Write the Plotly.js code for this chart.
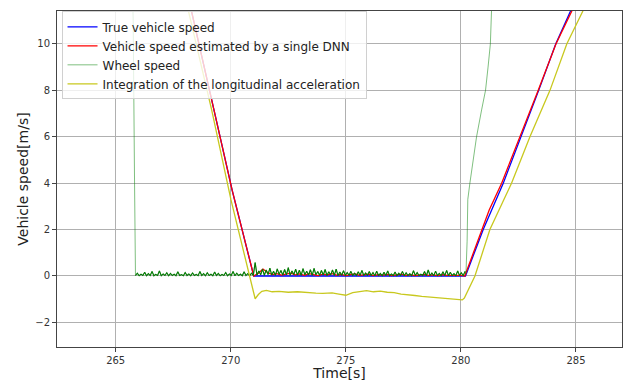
<!DOCTYPE html>
<html>
<head>
<meta charset="utf-8">
<script src="https://cdn.plot.ly/plotly-3.0.1.min.js"></script>
<style>html,body{margin:0;padding:0;background:#fff;}#chart{width:630px;height:381px;}</style>
</head>
<body>
<div id="chart"></div>
<script>
// ---- Data ----
const seriesNames = [
  "True vehicle speed",
  "Vehicle speed estimated by a single DNN",
  "Wheel speed",
  "Integration of the longitudinal acceleration"
];

// True vehicle speed
const trueT = [267.7, 268.3, 269.27, 270.06, 271.0, 280.2, 280.97, 281.84, 282.62, 283.38, 284.12, 284.8, 285.3];
const trueV = [14.0, 11.42, 7.16, 3.7, 0.0, 0.0, 2.0, 4.0, 6.0, 8.0, 10.0, 11.42, 12.6];

// DNN estimate: descent, low-speed wiggle (every 0.2 s from 271.0 s), rise
const dnnDescT = [267.7, 268.3, 269.27, 270.06, 271.0];
const dnnDescV = [14.0, 11.42, 7.16, 3.7, 0.0];
const dnnStopT0 = 271.0, dnnStopDt = 0.2;
const dnnStopV = [0, 0.12, 0.3, 0.15, 0.06, 0.1, 0.04, 0.08, 0.12, 0.05,
                  0.09, 0.03, 0.1, 0.06, 0.02, 0.08, 0.05, 0.1, 0.04, 0.07,
                  0.02, 0.06, 0.09, 0.03, 0.05, 0.08, 0.02, 0.06, 0.04, 0.07,
                  0.02, 0.05, 0.08, 0.03, 0.06, 0.02, 0.04, 0.07, 0.03, 0.05,
                  0.02, 0.06, 0.03, 0.04, 0.02, 0.03];
const dnnRiseT = [280.17, 280.93, 281.23, 281.77, 282.57, 283.04, 283.36, 284.13, 284.82, 285.3];
const dnnRiseV = [0.0, 2.0, 2.84, 4.0, 6.0, 7.16, 8.0, 10.0, 11.42, 12.6];

// Wheel speed: drop, noisy standstill (every 0.08 s from 265.86 s), rise
const wheelDropT = [265.7, 265.76, 265.82, 265.85];
const wheelDropV = [14.0, 11.0, 4.0, 0.02];
const wheelStopT0 = 265.86, wheelStopDt = 0.08;
const wheelStopV = [
  0.02, 0.12, 0.01, 0.08, 0.02, 0.16, 0.01, 0.10, 0.02, 0.20,
  0.01, 0.07, 0.02, 0.22, 0.01, 0.09, 0.02, 0.14, 0.01, 0.11,
  0.02, 0.08, 0.01, 0.18, 0.02, 0.06, 0.01, 0.15, 0.02, 0.09,
  0.01, 0.13, 0.02, 0.07, 0.01, 0.19, 0.02, 0.10, 0.01, 0.14,
  0.02, 0.08, 0.01, 0.17, 0.02, 0.11, 0.01, 0.07, 0.02, 0.15,
  0.01, 0.09, 0.02, 0.20, 0.01, 0.12, 0.02, 0.08, 0.01, 0.18,
  0.02, 0.10, 0.01, 0.12, 0.03, 0.58, 0.04, 0.22, 0.05, 0.30,
  0.03, 0.26, 0.06, 0.34, 0.04, 0.20, 0.03, 0.31, 0.07, 0.24,
  0.04, 0.28, 0.05, 0.36, 0.03, 0.22, 0.06, 0.29, 0.04, 0.25,
  0.03, 0.32, 0.05, 0.21, 0.04, 0.27, 0.03, 0.33, 0.05, 0.19,
  0.03, 0.24, 0.04, 0.28, 0.02, 0.18, 0.04, 0.26, 0.03, 0.30,
  0.02, 0.17, 0.03, 0.23, 0.02, 0.15, 0.03, 0.20, 0.02, 0.12,
  0.02, 0.18, 0.03, 0.24, 0.02, 0.13, 0.03, 0.19, 0.02, 0.15,
  0.01, 0.21, 0.02, 0.11, 0.01, 0.16, 0.02, 0.22, 0.01, 0.09,
  0.02, 0.17, 0.01, 0.12, 0.02, 0.20, 0.01, 0.14, 0.02, 0.10,
  0.01, 0.23, 0.02, 0.15, 0.01, 0.08, 0.02, 0.19, 0.01, 0.26,
  0.02, 0.13, 0.01, 0.21, 0.02, 0.11, 0.01, 0.18, 0.02, 0.24,
  0.01, 0.16, 0.02, 0.10, 0.01, 0.22, 0.02, 0.14, 0.01, 0.20
];
const wheelRiseT = [280.22, 280.27, 280.3, 280.39, 280.52, 280.68, 280.9, 281.07, 281.18, 281.28, 281.33, 281.4];
const wheelRiseV = [0.1, 1.5, 3.3, 4.0, 5.0, 6.0, 7.16, 8.0, 9.0, 10.0, 11.42, 14.0];

// Integration of the longitudinal acceleration
const integT = [267.55, 268.16, 269.17, 270.01, 270.81, 271.06, 271.2, 271.35, 271.55, 271.8, 272.1, 272.5, 272.9, 273.3, 273.7, 274.0,
                274.4, 274.7, 275.0, 275.3, 275.6, 275.9, 276.2, 276.5, 276.8, 277.1, 277.4, 277.7, 278.0, 278.3, 278.6, 278.9,
                279.2, 279.5, 279.8, 280.06, 280.15, 280.32, 280.61, 281.26, 281.67, 282.2, 283.0, 283.51, 283.87, 284.6, 285.3, 285.8];
const integV = [14.0, 11.42, 7.16, 3.28, 0.0, -0.98, -0.8, -0.66, -0.62, -0.68, -0.66, -0.7, -0.68, -0.72, -0.74, -0.75,
                -0.73, -0.78, -0.83, -0.72, -0.66, -0.63, -0.68, -0.65, -0.7, -0.72, -0.78, -0.8, -0.84, -0.88, -0.9, -0.93,
                -0.95, -0.98, -1.0, -1.03, -0.95, -0.6, 0.0, 2.0, 2.84, 4.0, 6.0, 7.16, 8.0, 10.0, 11.42, 12.6];

const xTicks = [265, 270, 275, 280, 285];
const yTicks = [-2, 0, 2, 4, 6, 8, 10];
const xRange = [262.45, 287.0];
const yRange = [-3.06, 11.42];

// ---- Build traces ----
const dnnT = dnnDescT.concat(dnnStopV.map((_, i) => dnnStopT0 + i * dnnStopDt), dnnRiseT);
const dnnV = dnnDescV.concat(dnnStopV, dnnRiseV);
const wheelStopT = wheelStopV.map((_, i) => wheelStopT0 + i * wheelStopDt);
const wheelT = wheelDropT.concat(wheelStopT, wheelRiseT);
const wheelV = wheelDropV.concat(wheelStopV, wheelRiseV);

const traces = [
  {x: trueT, y: trueV, mode: "lines", name: seriesNames[0], line: {color: "#0000ff", width: 1.3}},
  {x: dnnT, y: dnnV, mode: "lines", name: seriesNames[1], line: {color: "#ff0000", width: 1.3}},
  {x: wheelT, y: wheelV, mode: "lines", name: seriesNames[2], line: {color: "rgba(0,128,0,0.5)", width: 1}},
  {x: wheelStopT, y: wheelStopV, mode: "lines", showlegend: false, hoverinfo: "skip", line: {color: "#067a06", width: 1.1}},
  {x: integT, y: integV, mode: "lines", name: seriesNames[3], line: {color: "#c8c81e", width: 1.3}}
];

const axisCommon = {
  showgrid: true, gridcolor: "#b0b0b0", gridwidth: 1,
  showline: true, linecolor: "#444", linewidth: 1, mirror: true,
  ticks: "outside", ticklen: 4, tickcolor: "#444", tickwidth: 1,
  zeroline: false,
  tickfont: {family: "DejaVu Sans", size: 10, color: "#333"}
};

const layout = {
  width: 630, height: 381,
  margin: {l: 57, r: 8, t: 11, b: 34},
  paper_bgcolor: "#fff", plot_bgcolor: "#fff",
  showlegend: true,
  legend: {
    x: 0.008, y: 0.999, xanchor: "left", yanchor: "top",
    bgcolor: "rgba(255,255,255,0.8)", bordercolor: "#d0d0d0", borderwidth: 1,
    font: {family: "DejaVu Sans", size: 12, color: "#222"},
    tracegroupgap: 0
  },
  xaxis: Object.assign({}, axisCommon, {
    range: xRange, tickvals: xTicks, ticktext: xTicks.map(String),
    title: {text: "Time[s]", font: {family: "DejaVu Sans", size: 14, color: "#222"}, standoff: 4}
  }),
  yaxis: Object.assign({}, axisCommon, {
    range: yRange, tickvals: yTicks,
    title: {text: "Vehicle speed[m/s]", font: {family: "DejaVu Sans", size: 14, color: "#222"}, standoff: 3}
  })
};

Plotly.newPlot("chart", traces, layout, {staticPlot: true, displayModeBar: false});
</script>
</body>
</html>
